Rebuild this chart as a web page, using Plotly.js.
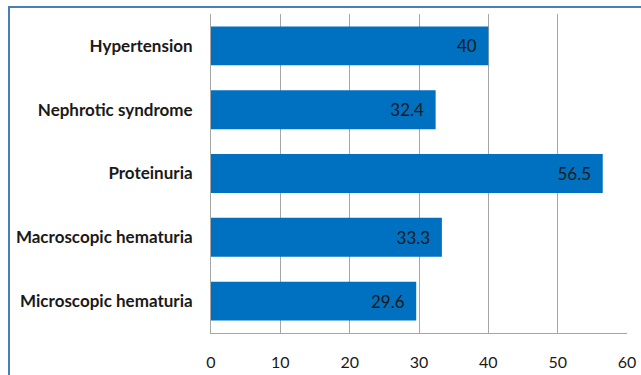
<!DOCTYPE html>
<html><head><meta charset="utf-8">
<script src="https://cdn.plot.ly/plotly-3.0.1.min.js"></script>
<style>
html,body{margin:0;padding:0;background:#fff;}
#wrap{position:relative;width:641px;height:375px;overflow:hidden;}
#frame{position:absolute;left:8px;top:6px;width:700px;height:500px;border-top:2px solid #4A7EBB;border-left:2px solid #4A7EBB;box-sizing:border-box;pointer-events:none;z-index:5;}
#chart{position:absolute;left:0;top:0;width:641px;height:375px;}
</style></head>
<body><div id="wrap"><div id="chart"></div><div id="frame"></div></div>
<script>
const categories = ["Microscopic hematuria","Macroscopic hematuria","Proteinuria","Nephrotic syndrome","Hypertension"];
const values = [29.6, 33.3, 56.5, 32.4, 40];
const xTicks = [0,10,20,30,40,50,60];

const trace = {
  type:'bar', orientation:'h', y:categories, x:values,
  text: values.map(v => String(v) + '\u00a0\u00a0'),
  textposition:'inside', insidetextanchor:'end', constraintext:'none',
  textfont:{family:'Lato, Carlito, sans-serif', size:17, color:'#1a1a1a'},
  marker:{color:'#0070C0', line:{width:0}},
  hoverinfo:'none'
};
const layout = {
  width:641, height:375,
  margin:{l:211, r:14, t:14, b:42},
  paper_bgcolor:'rgba(0,0,0,0)', plot_bgcolor:'#fff',
  bargap:0.39,
  showlegend:false,
  font:{family:'Lato, Carlito, sans-serif', color:'#1a1a1a'},
  xaxis:{range:[0,60], tickvals:xTicks, ticktext:xTicks.map(String), showgrid:true, gridcolor:'#A6A6A6', gridwidth:1,
    showline:true, linecolor:'#A6A6A6', linewidth:1, zeroline:false, ticks:'', tickfont:{size:16, color:'#1a1a1a'}, ticklabelstandoff:15, fixedrange:true},
  yaxis:{showgrid:false, showline:true, linecolor:'#A6A6A6', linewidth:1, ticks:'', tickfont:{size:17, color:'#1a1a1a', weight:'bold'}, ticklabelstandoff:14, fixedrange:true}
};
Plotly.newPlot('chart',[trace],layout,{staticPlot:true, displayModeBar:false});
</script></body></html>
